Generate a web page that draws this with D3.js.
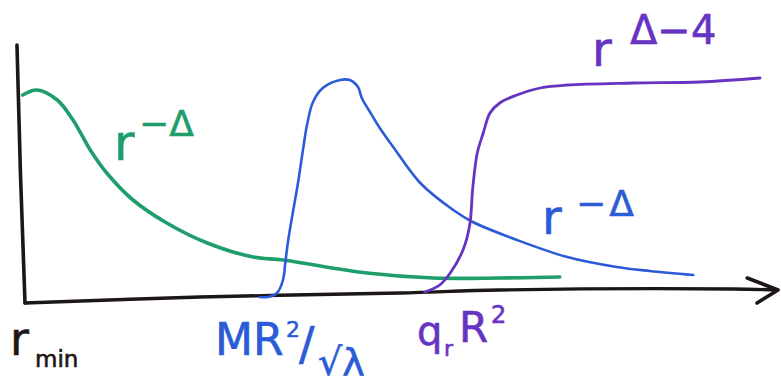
<!DOCTYPE html>
<html>
<head>
<meta charset="utf-8">
<script src="https://cdn.jsdelivr.net/npm/d3@7/dist/d3.min.js"></script>
<style>
  html, body { margin: 0; padding: 0; background: #fff; }
  svg { display: block; }
  text { font-family: "DejaVu Sans", sans-serif; }
</style>
</head>
<body>
<div id="chart"></div>
<script>
// Sketch of three radial profiles: r (horizontal) vs. amplitude (vertical), arbitrary units.

// Green profile: starts high at r_min and falls off like r^-Δ
const greenR = [-0.3, 1.6, 4.3, 6.4, 8.7, 10.9, 14.4, 18.9, 24.3, 30.4, 34.4, 45.6, 54.4, 63.3, 71.3];
const greenV = [82, 84, 80, 72, 60, 50.8, 40, 30.8, 22.8, 17.2, 16, 10.8, 8.8, 8.8, 9.2];

// Blue profile: switches on near MR²/√λ, peaks, then decays like r^-Δ
const blueR = [31.3, 32.4, 33.6, 34.4, 34.7, 35.1, 35.7, 36.4, 37.1, 37.6, 38.4, 39.7, 42.0, 43.3, 44.4, 44.9,
               46.0, 47.3, 49.1, 52.7, 57.1, 59.7, 65.6, 72.3, 78.9, 83.3, 89.1];
const blueV = [1.2, 1.2, 2.8, 8.0, 14.8, 24.0, 34.8, 46.8, 60.8, 70.0, 79.2, 84.8, 88.0, 88.0, 85.2, 80.8,
               75.2, 68.8, 61.2, 46.8, 36.0, 31.2, 24.0, 17.2, 13.2, 11.6, 10.0];

// Purple profile: switches on near q_r R² and grows like r^(Δ-4)
const purpleR = [53.3, 55.3, 56.7, 58.4, 59.3, 59.7, 60.3, 61.1, 62.0, 63.3, 65.6, 68.7, 72.3, 81.1, 90.0, 98.0];
const purpleV = [3.2, 6.0, 10.8, 20.0, 30.0, 44.8, 58.8, 66.8, 74.8, 78.8, 82.0, 84.8, 86.0, 86.8, 87.2, 88.8];

// Hand-drawn axes (slightly tilted strokes)
const yAxisR = [-1.07, -0.6, 0];
const yAxisV = [102, 50, -1.2];
const xAxisR = [0, 23.3, 50, 63.3, 94.3, 100.3];
const xAxisV = [-1.2, 1.2, 2.8, 4.0, 4.4, 4.0];
const arrowR = [96.3, 100.4, 97.6];
const arrowV = [8.8, 4.0, -1.2];

// Annotation texts
const axisTickTexts = ["r", "min", "MR", "2", "/", "√λ", "q", "r", "R", "2"];
const curveTexts = ["r", "−Δ", "r", "Δ−4", "r", "−Δ"];

const W = 781, H = 384;
const colors = { axis: "#1c1616", green: "#1f9e6c", blue: "#2b5bd6", purple: "#6733c2" };

const svg = d3.select("#chart").append("svg").attr("width", W).attr("height", H);

const x = d3.scaleLinear().domain([0, 100]).range([25, 775]);
const y = d3.scaleLinear().domain([0, 100]).range([300, 50]);

const line = d3.line().x(d => x(d[0])).y(d => y(d[1])).curve(d3.curveCatmullRom.alpha(0.5));
const straight = d3.line().x(d => x(d[0])).y(d => y(d[1]));
const zip = (a, b) => a.map((v, i) => [v, b[i]]);

function stroke(path, color, width) {
  return svg.append("path")
    .attr("d", path)
    .attr("fill", "none")
    .attr("stroke", color)
    .attr("stroke-width", width)
    .attr("stroke-linecap", "round")
    .attr("stroke-linejoin", "round");
}

// axes
stroke(straight(zip(yAxisR, yAxisV)), colors.axis, 3.6);
stroke(line(zip(xAxisR, xAxisV)), colors.axis, 3.4);
stroke(straight(zip(arrowR, arrowV)), colors.axis, 3.6);

// curves
stroke(line(zip(greenR, greenV)), colors.green, 3.6);
stroke(line(zip(blueR, blueV)), colors.blue, 2.6);
stroke(line(zip(purpleR, purpleV)), colors.purple, 2.8);

// label helper: a single piece of text
function label(txt, px, py, size, color, spacing) {
  return svg.append("text")
    .attr("x", px).attr("y", py)
    .attr("font-size", size)
    .attr("fill", color)
    .attr("stroke", color)
    .attr("stroke-width", 0.6)
    .attr("letter-spacing", spacing || 0)
    .text(txt);
}

// axis annotations
label(axisTickTexts[0], 10, 355, 46, colors.axis);
label(axisTickTexts[1], 35, 367, 23, colors.axis);
label(axisTickTexts[2], 215, 355, 44, colors.blue);
label(axisTickTexts[3], 286, 337, 22, colors.blue);
label(axisTickTexts[4], 299, 360, 46, colors.blue);
label(axisTickTexts[5], 318, 375, 38, colors.blue);
label(axisTickTexts[6], 417, 345, 40, colors.purple);
label(axisTickTexts[7], 444, 356, 22, colors.purple);
label(axisTickTexts[8], 459, 342, 42, colors.purple);
label(axisTickTexts[9], 491, 323, 24, colors.purple);

// curve annotations
label(curveTexts[0], 114, 160, 50, colors.green);
label(curveTexts[1], 139, 136, 36, colors.green);
label(curveTexts[2], 592, 66, 48, colors.purple);
label(curveTexts[3], 630, 44, 40, colors.purple);
label(curveTexts[4], 542, 234, 48, colors.blue);
label(curveTexts[5], 576, 216, 36, colors.blue, 3);
</script>
</body>
</html>
